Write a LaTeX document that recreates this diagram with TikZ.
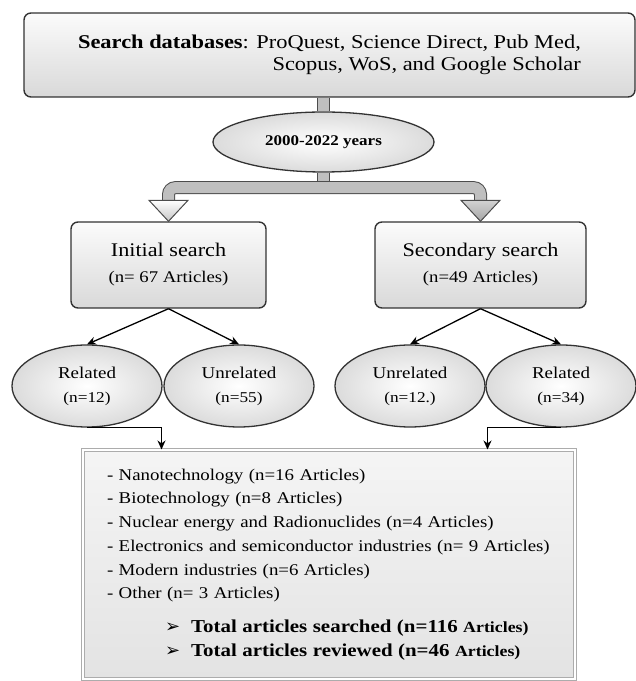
\documentclass[tikz,border=0pt]{standalone}
\usepackage{fontspec}
\setmainfont{Liberation Serif}[FakeStretch=1.15]
\newfontfamily\symfont{DejaVu Sans}
\usetikzlibrary{
    arrows.meta,
    positioning,
    shapes.geometric,
    calc
}
\tikzset{
    % Nodes
    search box/.style={rectangle,rounded corners=7pt,draw=black!80,line width=1.4pt,top color=gray!3,bottom color=gray!30,align=center,inner sep=0pt},
    result ellipse/.style={ellipse,draw=black!80,line width=1.3pt,inner color=white,outer color=gray!28,align=center,inner sep=0pt,minimum width=150pt,minimum height=82pt,font=\fontsize{16.5}{19}\selectfont},
    summary box/.style={rectangle,draw=gray!65,line width=1pt,double=white,double distance=1.2pt,top color=gray!8,bottom color=gray!22,align=left,inner xsep=24pt,inner ysep=0pt},
    %
    % Arrows
    arrow tip/.tip={Stealth[length=9pt,width=8pt]},
    arr/.style={->,>={arrow tip},line width=1.3pt},
    tube/.style={draw=black!70,line width=1pt,double=gray!50,double distance=11pt},
    tube head/.style={draw=black!70,line width=1pt,line join=miter},
}
\newcommand{\countline}[1]{{\fontsize{15}{18}\selectfont #1}}
\newcommand{\totalline}[1]{\hspace*{58pt}{\symfont\fontsize{18}{18}\selectfont ➢}\hspace{11pt}{\fontsize{18.2}{22}\selectfont\textbf{#1 {\fontsize{15.5}{18}\selectfont Articles)}}}}

\begin{document}
\begin{tikzpicture}[x=1pt,y=1pt]
    \useasboundingbox (0,0) rectangle (636,681);
    % Databases and years
    \node[search box,minimum width=611pt,minimum height=84pt,align=right,font=\fontsize{19.5}{21.5}\selectfont] (databases) at (329.5,626)
        {\textbf{Search databases}: ProQuest, Science Direct, Pub Med,\\Scopus, WoS, and Google Scholar\hspace{6pt}};
    \node[result ellipse,minimum width=221pt,minimum height=60pt,font=\bfseries\fontsize{14.8}{17}\selectfont] (years) at (323.5,539) {2000-2022 years};
    % Searches
    \node[search box,minimum width=195pt,minimum height=86pt,font=\fontsize{19.3}{22}\selectfont] (initial) at (168.5,416)
        {Initial search\\[4pt]{\fontsize{16.3}{19}\selectfont (n= 67 Articles)}};
    \node[search box,minimum width=211pt,minimum height=86pt,font=\fontsize{19.3}{22}\selectfont] (secondary) at (480.5,416)
        {Secondary search\\[4pt]{\fontsize{16.3}{19}\selectfont (n=49 Articles)}};
    % Results
    \node[result ellipse] (related 1) at (87,295) {Related\\[5pt]\countline{(n=12)}};
    \node[result ellipse] (unrelated 1) at (239,295) {Unrelated\\[5pt]\countline{(n=55)}};
    \node[result ellipse] (unrelated 2) at (410,295) {Unrelated\\[5pt]\countline{(n=12.)}};
    \node[result ellipse] (related 2) at (561,295) {Related\\[5pt]\countline{(n=34)}};
    % Summary
    \node[summary box,minimum width=492pt,minimum height=229pt,text width=444pt,font=\fontsize{16.4}{23.7}\selectfont] (summary) at (329,116.5) {%
        - Nanotechnology (n=16 Articles)\\
        - Biotechnology (n=8 Articles)\\
        - Nuclear energy and Radionuclides (n=4 Articles)\\
        - Electronics and semiconductor industries (n= 9 Articles)\\
        - Modern industries (n=6 Articles)\\
        - Other (n= 3 Articles)\\[10pt]
        \totalline{Total articles searched (n=116}\\
        \totalline{Total articles reviewed (n=46}};
    % Block connectors
    \coordinate (split) at ($(years.south)+(0,-15)$);
    \draw[tube] (databases.south -| years.north) -- (years.north);
    \draw[tube] (years.south) -- (split);
    \draw[tube,rounded corners=7pt] ([yshift=21pt]initial.north) |- (split) -| ([yshift=21pt]secondary.north);
    \filldraw[tube head,top color=white,bottom color=gray!45] ([xshift=-19.5pt,yshift=21pt]initial.north) -- ([xshift=19.5pt,yshift=21pt]initial.north) -- (initial.north) -- cycle;
    \filldraw[tube head,top color=gray!35,bottom color=gray!70] ([xshift=-19.5pt,yshift=21pt]secondary.north) -- ([xshift=19.5pt,yshift=21pt]secondary.north) -- (secondary.north) -- cycle;
    % Arrows
    \draw[arr] (initial.south) -- (related 1.north);
    \draw[arr] (initial.south) -- (unrelated 1.north);
    \draw[arr] (secondary.south) -- (unrelated 2.north);
    \draw[arr] (secondary.south) -- (related 2.north);
    \draw[arr] (related 1.south) -| ([xshift=79pt]summary.north west);
    \draw[arr] (related 2.south) -| ([xshift=-88pt]summary.north east);
\end{tikzpicture}
\end{document}
